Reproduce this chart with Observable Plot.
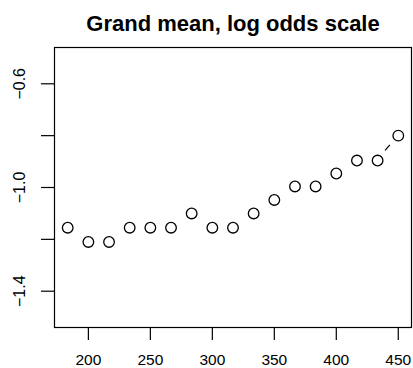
<!DOCTYPE html>
<html>
<head>
<meta charset="utf-8">
<script src="https://cdn.jsdelivr.net/npm/d3@7"></script>
<script src="https://cdn.jsdelivr.net/npm/@observablehq/plot@0.6"></script>
<style>
  html, body { margin: 0; padding: 0; background: #fff; }
  svg { display: block; }
</style>
</head>
<body>
<div id="chart"></div>
<script>
const titleText = "Grand mean, log odds scale";
const xValues = [183.33, 200, 216.67, 233.33, 250, 266.67, 283.33, 300, 316.67, 333.33, 350, 366.67, 383.33, 400, 416.67, 433.33, 450];
const yValues = [-1.155, -1.21, -1.21, -1.155, -1.155, -1.155, -1.10, -1.155, -1.155, -1.10, -1.048, -0.996, -0.996, -0.946, -0.896, -0.896, -0.80];
const xTicks = [200, 250, 300, 350, 400, 450];
const yTicks = [-1.4, -1.2, -1.0, -0.8, -0.6];
const yTickLabels = ["\u22121.4", "", "\u22121.0", "", "\u22120.6"];

const data = xValues.map((x, i) => ({x, y: yValues[i]}));
const font = "'Liberation Sans', Arial, Helvetica, sans-serif";

const plot = Plot.plot({
  width: 413,
  height: 368,
  marginLeft: 54,
  marginRight: 2,
  marginTop: 47,
  marginBottom: 41,
  style: {fontFamily: font, background: "#fff", color: "#000"},
  x: {domain: [172.67, 460.67]},
  y: {domain: [-1.54, -0.46]},
  marks: [
    Plot.frame({stroke: "#000", strokeWidth: 1.2}),
    Plot.axisX(xTicks, {tickSize: 13, tickPadding: 13, fontSize: 15.5, stroke: "#000", strokeWidth: 1.2, tickFormat: d => String(d), label: null}),
    Plot.axisY(yTicks, {tickSize: 13, tickPadding: 17, tickRotate: -90, fontSize: 16, stroke: "#000", strokeWidth: 1.2,
      tickFormat: d => yTickLabels[yTicks.indexOf(d)], label: null}),
    Plot.dot(data, {x: "x", y: "y", r: 5.3, stroke: "#000", strokeWidth: 1.3, fill: "none"}),
    Plot.text([titleText], {frameAnchor: "top", dy: -17, lineAnchor: "bottom", fontSize: 22, fontWeight: "bold", fill: "#000"})
  ]
});

// type="b" style connecting segments with gaps around points, positioned via Plot's scales
const xs = plot.scale("x"), ys = plot.scale("y");
const gap = 12.5;
const g = d3.select(plot).append("g").attr("stroke", "#000").attr("stroke-width", 1.2);
for (let i = 0; i < data.length - 1; i++) {
  const x0 = xs.apply(data[i].x), y0 = ys.apply(data[i].y);
  const x1 = xs.apply(data[i + 1].x), y1 = ys.apply(data[i + 1].y);
  const dx = x1 - x0, dy = y1 - y0, d = Math.hypot(dx, dy);
  if (d > 2 * gap + 0.5) {
    const f = gap / d;
    g.append("line")
      .attr("x1", x0 + f * dx).attr("y1", y0 + f * dy)
      .attr("x2", x1 - f * dx).attr("y2", y1 - f * dy);
  }
}

document.getElementById("chart").appendChild(plot);
</script>
</body>
</html>
